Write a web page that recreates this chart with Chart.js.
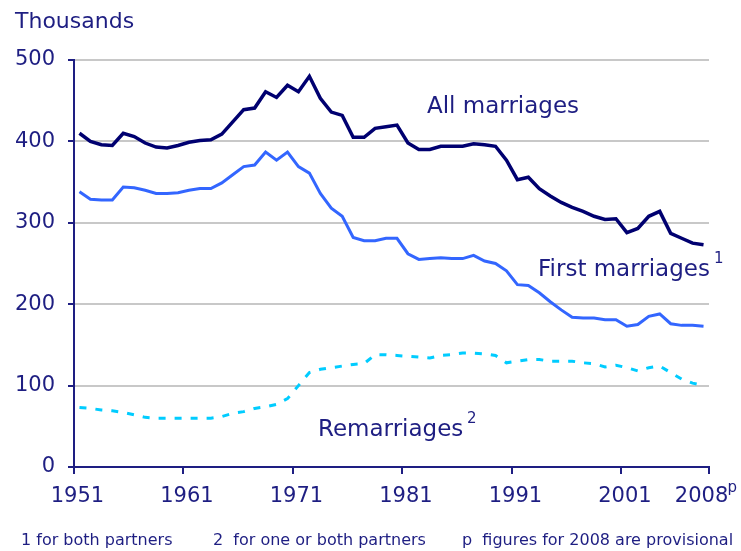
<!DOCTYPE html>
<html>
<head>
<meta charset="utf-8">
<script src="https://cdn.jsdelivr.net/npm/chart.js@4.4.1/dist/chart.umd.min.js"></script>
<style>
html,body{margin:0;padding:0;background:#ffffff;}
#wrap{width:741px;height:551px;position:relative;}
</style>
</head>
<body>
<div id="wrap"><canvas id="c" width="741" height="551"></canvas></div>
<script>
const years = ['1951','1952','1953','1954','1955','1956','1957','1958','1959','1960',
  '1961','1962','1963','1964','1965','1966','1967','1968','1969','1970',
  '1971','1972','1973','1974','1975','1976','1977','1978','1979','1980',
  '1981','1982','1983','1984','1985','1986','1987','1988','1989','1990',
  '1991','1992','1993','1994','1995','1996','1997','1998','1999','2000',
  '2001','2002','2003','2004','2005','2006','2007','2008'];

const allMarriages = [410,400,396,395,410,406,398,393,392,395,
  399,401,402,409,424,439,441,461,454,469,
  461,480,453,436,432,405,405,416,418,420,
  398,390,390,394,394,394,397,396,394,377,
  353,356,342,333,325,319,314,308,304,305,
  288,293,308,314,287,281,275,273];

const firstMarriages = [338,329,328,328,344,343,340,336,336,337,
  340,342,342,349,359,369,371,387,377,387,
  369,361,336,318,308,282,278,278,281,281,
  262,255,256,257,256,256,260,253,250,241,
  224,223,214,203,193,184,183,183,181,181,
  173,175,185,188,176,174,174,173];

const remarriages = [73,72,70,69,67,64,61,60,60,60,
  60,60,60,62,66,68,72,74,77,84,
  100,116,120,122,124,126,127,138,138,137,
  136,135,134,137,138,140,140,139,137,128,
  130,132,132,130,130,130,128,127,123,125,
  122,118,122,124,116,108,103,100];

const shownYears = ['1951','1961','1971','1981','1991','2001','2008'];
const yTicks = [0,100,200,300,400,500];

const NAVY = '#1e1e82';
const FONT = "'DejaVu Sans', Verdana, sans-serif";

const textPlugin = {
  id: 'texts',
  afterDraw(chart) {
    const c = chart.ctx;
    c.save();
    c.fillStyle = NAVY;
    c.textBaseline = 'alphabetic';
    c.textAlign = 'left';
    c.font = '22px ' + FONT;
    c.fillText('Thousands', 15, 28);
    c.font = '23px ' + FONT;
    c.fillText('All marriages', 427, 113);
    c.fillText('First marriages', 538, 276);
    c.fillText('Remarriages', 318, 436);
    c.font = '15px ' + FONT;
    c.fillText('1', 714, 263);
    c.fillText('2', 467, 423);
    // provisional marker next to the 2008 label
    const xs = chart.scales.x;
    const x08 = xs.getPixelForValue(years.length - 1);
    c.font = '15px ' + FONT;
    c.fillText('p', x08 + 24, 492);
    c.font = '16px ' + FONT;
    c.fillText('1 for both partners', 21, 545);
    c.fillText('2  for one or both partners', 213, 545);
    c.fillText('p  figures for 2008 are provisional', 462, 545);
    c.restore();
  }
};

new Chart(document.getElementById('c'), {
  type: 'line',
  data: {
    labels: years,
    datasets: [
      {
        label: 'Remarriages',
        data: remarriages,
        borderColor: '#00ccff',
        borderWidth: 3,
        borderDash: [7, 9],
        pointRadius: 0,
        tension: 0,
        fill: false
      },
      {
        label: 'First marriages',
        data: firstMarriages,
        borderColor: '#3366ff',
        borderWidth: 3,
        pointRadius: 0,
        tension: 0,
        fill: false
      },
      {
        label: 'All marriages',
        data: allMarriages,
        borderColor: '#000070',
        borderWidth: 3.5,
        pointRadius: 0,
        tension: 0,
        fill: false
      }
    ]
  },
  options: {
    responsive: false,
    animation: false,
    layout: { padding: { left: 0, top: 60, right: 32, bottom: 0 } },
    plugins: {
      legend: { display: false },
      tooltip: { enabled: false }
    },
    scales: {
      x: {
        type: 'category',
        offset: true,
        afterFit(scale) { scale.height = 84; },
        border: { display: true, color: NAVY, width: 2 },
        grid: {
          offset: true,
          drawOnChartArea: false,
          drawTicks: true,
          tickLength: 7,
          lineWidth: 2,
          color: 'transparent',
          tickColor(ctx) {
            if (ctx.index === undefined) return NAVY;
            return shownYears.includes(years[ctx.index]) && ctx.index !== years.length - 1 ? NAVY : 'transparent';
          }
        },
        ticks: {
          autoSkip: false,
          maxRotation: 0,
          minRotation: 0,
          padding: 10,
          labelOffset: -2,
          color: NAVY,
          font: { family: FONT, size: 21 },
          callback(val, idx) {
            const lab = years[idx];
            return shownYears.includes(lab) ? lab : '';
          }
        }
      },
      y: {
        min: 0,
        max: 500,
        afterFit(scale) { scale.width = 74; },
        afterBuildTicks(scale) { scale.ticks = yTicks.map(v => ({ value: v })); },
        border: { display: true, color: NAVY, width: 2 },
        grid: {
          lineWidth: 2,
          color(ctx) { return ctx.tick && ctx.tick.value === 0 ? 'transparent' : '#c8c8c8'; },
          tickColor: NAVY,
          tickLength: 6,
          drawTicks: true
        },
        ticks: {
          padding: 13,
          color: NAVY,
          font: { family: FONT, size: 21 }
        }
      }
    }
  },
  plugins: [textPlugin]
});
</script>
</body>
</html>
